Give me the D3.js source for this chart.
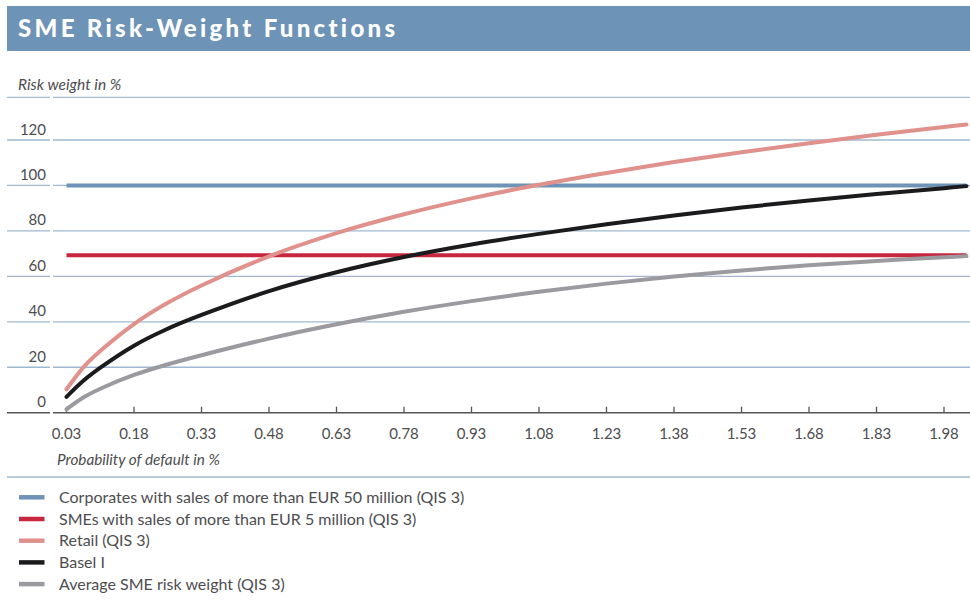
<!DOCTYPE html>
<html>
<head>
<meta charset="utf-8">
<script src="https://cdn.jsdelivr.net/npm/d3@7.9.0/dist/d3.min.js"></script>
<style>
  body { margin: 0; background: #fff; }
  svg { display: block; font-family: Lato, "Open Sans", sans-serif; }
</style>
</head>
<body>
<svg id="chart" width="970" height="605"></svg>
<script>
// probability of default in % (x values)
const pd = [0.03, 0.07, 0.11, 0.18, 0.25, 0.33, 0.48, 0.63, 0.78, 0.93, 1.08, 1.23, 1.38, 1.53, 1.68, 1.83, 1.98, 2.03];
const retail  = [10.3, 20.5, 28, 39, 47.8, 56, 68.8, 79, 87.3, 94.3, 100.3, 105.5, 110.3, 114.6, 118.6, 122.3, 125.7, 126.8];
const basel   = [7, 14.5, 20.5, 29.5, 36.5, 43, 53.5, 61.8, 68.5, 74, 78.7, 82.9, 86.8, 90.3, 93.4, 96.2, 98.8, 99.7];
const avgSme  = [1.5, 7, 11, 16.6, 21, 25.3, 32.6, 38.9, 44.4, 49.1, 53.2, 56.8, 59.9, 62.6, 64.9, 66.8, 68.4, 68.9];
const corporates = [100, 100];
const smes = [69.3, 69.3];
const flatPd = [0.03, 2.03];

const xTicks = [0.03, 0.18, 0.33, 0.48, 0.63, 0.78, 0.93, 1.08, 1.23, 1.38, 1.53, 1.68, 1.83, 1.98];
const yTicks = [0, 20, 40, 60, 80, 100, 120];

const legendLabels = [
  "Corporates with sales of more than EUR 50 million (QIS 3)",
  "SMEs with sales of more than EUR 5 million (QIS 3)",
  "Retail (QIS 3)",
  "Basel I",
  "Average SME risk weight (QIS 3)"
];
const colors = ["#6f93b7", "#c8253f", "#e0918b", "#1b1a1c", "#9a9a9f"];

const svg = d3.select("#chart");
const x = d3.scaleLinear().domain([0.03, 1.98]).range([66.5, 944]);
const y = d3.scaleLinear().domain([0, 120]).range([412.7, 140]);

// title bar
svg.append("rect").attr("x", 7).attr("y", 6).attr("width", 963).attr("height", 45).attr("fill", "#6d93b6");
svg.append("text").attr("x", 18).attr("y", 37)
  .attr("fill", "#fff").attr("font-size", 24).attr("font-weight", 900)
  .attr("letter-spacing", 3.3)
  .text("SME Risk-Weight Functions");

const txt = "#4d4d4f";
svg.append("text").attr("x", 18).attr("y", 90).attr("font-size", 15.5)
  .attr("font-style", "italic").attr("fill", txt).text("Risk weight in %");

// split horizontal rule (label area | plot area)
function rule(yy, color, w) {
  svg.append("line").attr("x1", 7).attr("x2", 50).attr("y1", yy).attr("y2", yy)
    .attr("stroke", color).attr("stroke-width", w);
  svg.append("line").attr("x1", 53).attr("x2", 970).attr("y1", yy).attr("y2", yy)
    .attr("stroke", color).attr("stroke-width", w);
}
rule(97.3, "#a3bad0", 1.3);

// gridlines
yTicks.filter(d => d > 0).forEach(d => rule(y(d), "#9fb8d0", 1.3));
rule(y(0), "#555", 1.5);

// y labels
svg.append("g").selectAll("text").data(yTicks).join("text")
  .attr("x", 46).attr("y", d => y(d) - 5.5)
  .attr("text-anchor", "end").attr("font-size", 15).attr("fill", txt)
  .text(d => d);

// x axis ticks (pointing up) and labels
const xAxis = svg.append("g");
xAxis.selectAll("line").data(xTicks).join("line")
  .attr("x1", d => x(d)).attr("x2", d => x(d))
  .attr("y1", y(0)).attr("y2", y(0) - 6)
  .attr("stroke", "#555").attr("stroke-width", 1.3);
xAxis.selectAll("text").data(xTicks).join("text")
  .attr("x", d => x(d)).attr("y", 438.5)
  .attr("text-anchor", "middle").attr("font-size", 15).attr("fill", txt)
  .text(d => d.toFixed(2));

svg.append("text").attr("x", 57).attr("y", 465).attr("font-size", 15.3)
  .attr("font-style", "italic").attr("fill", txt).text("Probability of default in %");

// separator above legend
svg.append("line").attr("x1", 7).attr("x2", 970).attr("y1", 477).attr("y2", 477)
  .attr("stroke", "#a3bad0").attr("stroke-width", 1.3);

// series
const line = d3.line().x(d => x(d[0])).y(d => y(d[1])).curve(d3.curveCatmullRom.alpha(0.5));
const series = [
  flatPd.map((p, i) => [p, corporates[i]]),
  flatPd.map((p, i) => [p, smes[i]]),
  pd.map((p, i) => [p, retail[i]]),
  pd.map((p, i) => [p, basel[i]]),
  pd.map((p, i) => [p, avgSme[i]])
];
// draw order: flat lines first, then curves on top
[0, 1, 4, 3, 2].forEach(i => {
  svg.append("path").attr("d", line(series[i]))
    .attr("fill", "none").attr("stroke", colors[i])
    .attr("stroke-width", 4).attr("stroke-linecap", i < 2 ? "butt" : "round");
});

// legend
const legend = svg.append("g").selectAll("g").data(legendLabels).join("g")
  .attr("transform", (d, i) => `translate(0, ${497.3 + i * 21.7})`);
legend.append("line").attr("x1", 19).attr("x2", 44.5).attr("y1", 0).attr("y2", 0)
  .attr("stroke", (d, i) => colors[i]).attr("stroke-width", 4.5);
legend.append("text").attr("x", 59).attr("y", 5.5)
  .attr("font-size", 16).attr("fill", txt).text(d => d);
</script>
</body>
</html>
